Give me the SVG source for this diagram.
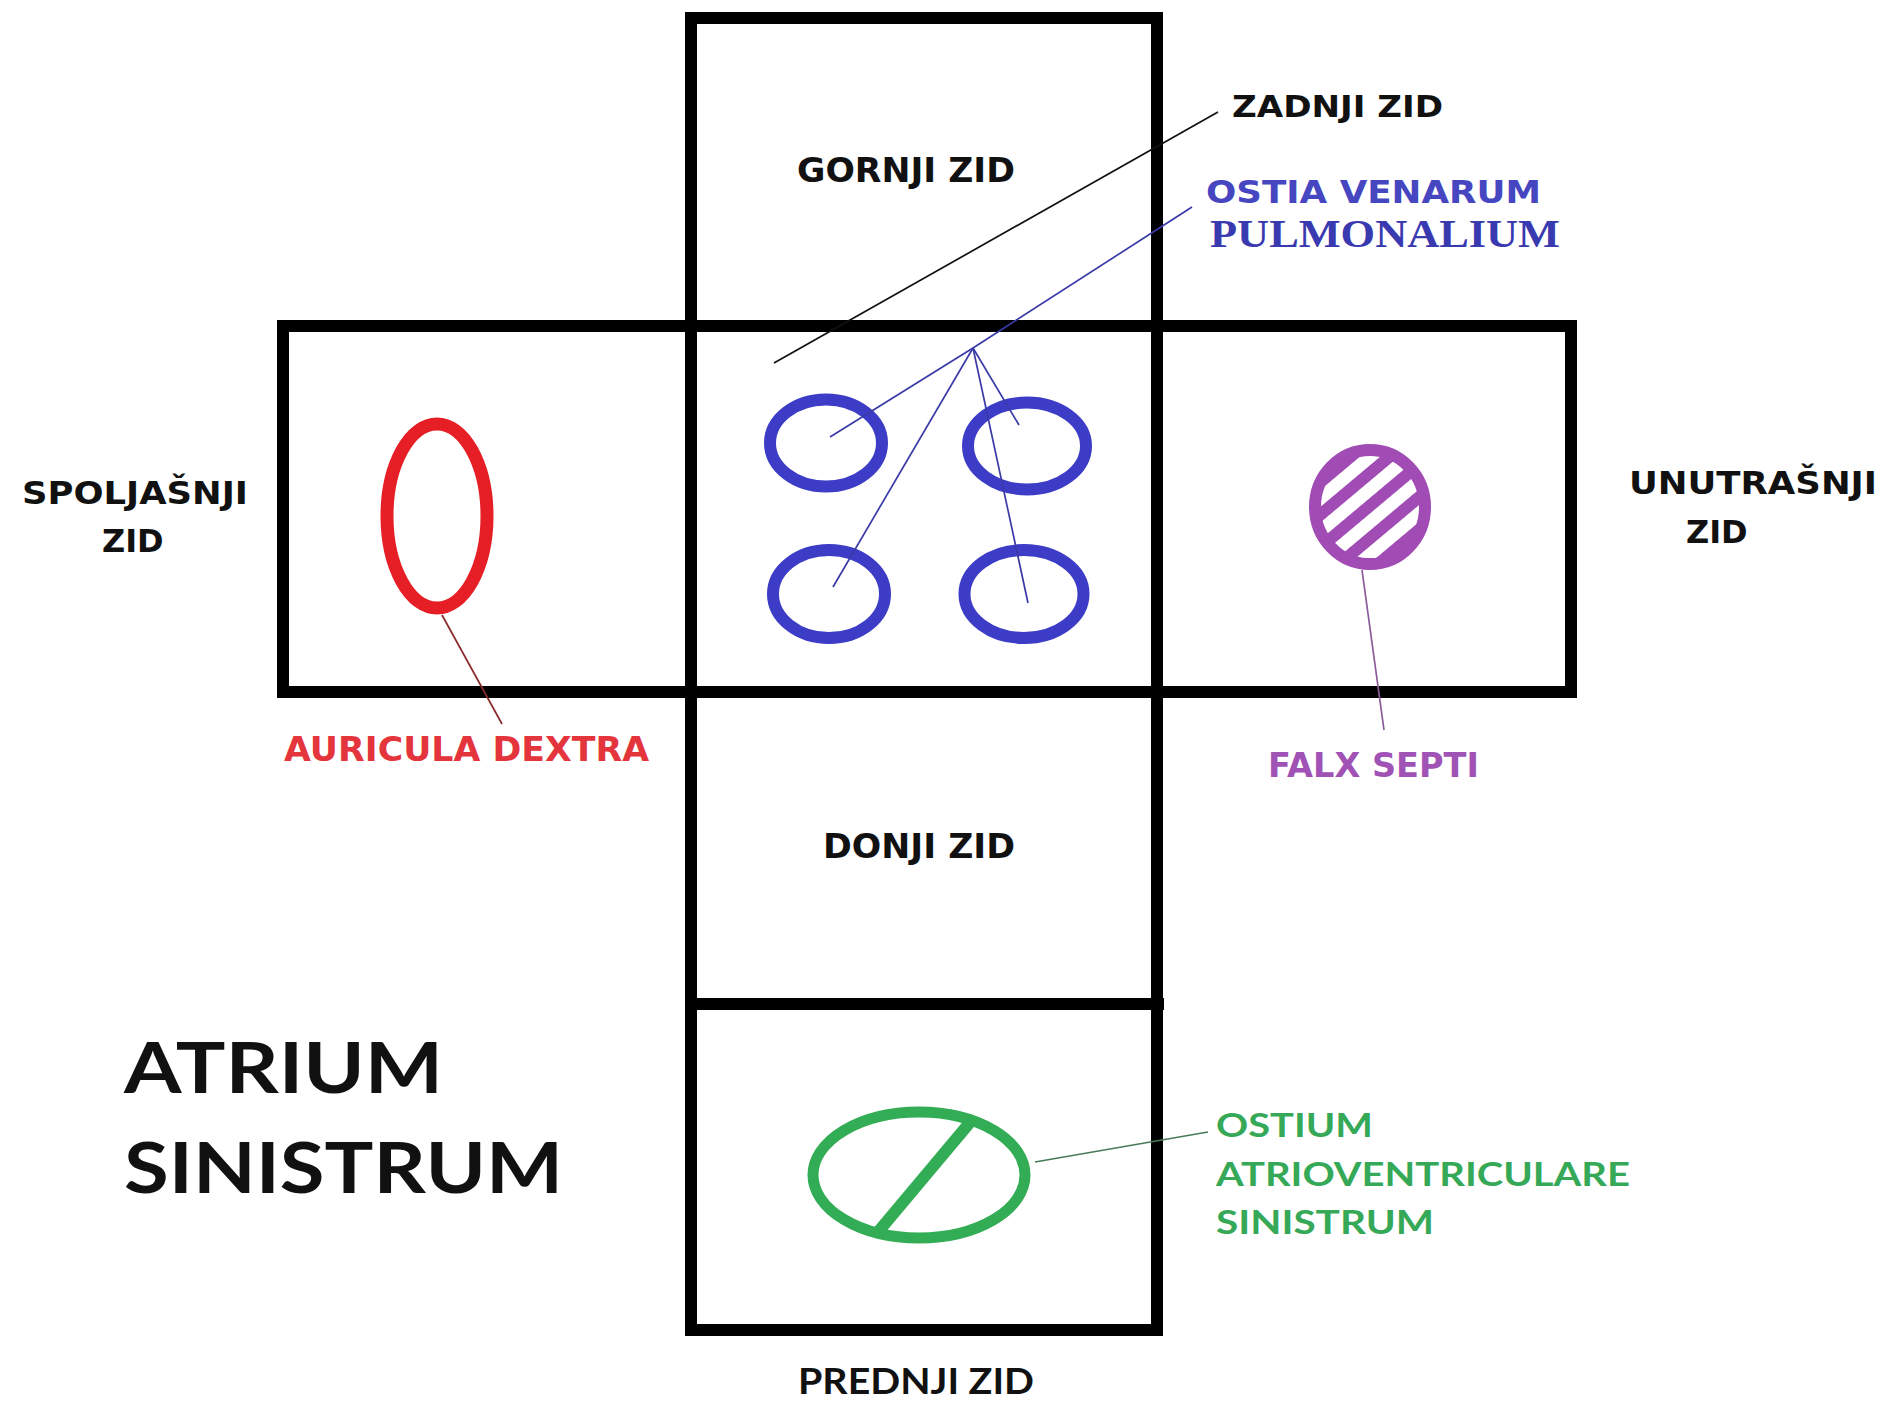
<svg xmlns="http://www.w3.org/2000/svg" width="1882" height="1404" viewBox="0 0 1882 1404">
<style>
.wall{fill:none;stroke:#000;stroke-width:12}
.t{font-family:"DejaVu Sans","Liberation Sans",sans-serif;font-weight:bold;fill:#111}
.c{font-family:Lato,"Open Sans","Liberation Sans",sans-serif;font-weight:bold}
.s{font-family:"Liberation Serif","DejaVu Serif",serif;font-weight:bold}
.blue{fill:none;stroke:#3c3cc6;stroke-width:12}
.lead{fill:none;stroke-width:1.7}
</style>
<defs>
<pattern id="hatch" patternUnits="userSpaceOnUse" width="25" height="25" patternTransform="rotate(-40 1370 507)">
<rect width="25" height="25" fill="#fff"/>
<rect y="0" width="25" height="12" fill="#a04cb4"/>
</pattern>
</defs>
<rect width="1882" height="1404" fill="#fff"/>

<g id="gornji-zid">
<rect class="wall" x="691" y="18" width="466" height="308"/>
<text class="t" x="797" y="182" font-size="33" textLength="218" lengthAdjust="spacingAndGlyphs">GORNJI ZID</text>
</g>
<g id="spoljasnji-zid">
<rect class="wall" x="283" y="326" width="408" height="366"/>
<text class="t" x="22" y="504" font-size="32" textLength="226" lengthAdjust="spacingAndGlyphs">SPOLJAŠNJI</text>
<text class="t" x="102" y="552" font-size="32">ZID</text>
</g>
<g id="zadnji-zid">
<rect class="wall" x="691" y="326" width="466" height="366"/>
<text class="t" x="1232" y="117" font-size="31" textLength="211" lengthAdjust="spacingAndGlyphs">ZADNJI ZID</text>
</g>
<g id="unutrasnji-zid">
<rect class="wall" x="1157" y="326" width="414" height="366"/>
<text class="t" x="1629" y="494" font-size="32" textLength="248" lengthAdjust="spacingAndGlyphs">UNUTRAŠNJI</text>
<text class="t" x="1686" y="543" font-size="32">ZID</text>
</g>
<g id="donji-zid">
<rect class="wall" x="691" y="692" width="466" height="312"/>
<line x1="1150" y1="1004" x2="1164" y2="1004" stroke="#000" stroke-width="12"/>
<text class="t" x="823" y="858" font-size="33" textLength="192" lengthAdjust="spacingAndGlyphs">DONJI ZID</text>
</g>
<g id="prednji-zid">
<rect class="wall" x="691" y="1004" width="466" height="326"/>
<text class="c" x="798" y="1394" font-size="37" fill="#111" textLength="236" lengthAdjust="spacingAndGlyphs">PREDNJI ZID</text>
</g>

<g id="ostia-venarum-pulmonalium">
<ellipse class="blue" cx="826" cy="443" rx="56" ry="43.5"/>
<ellipse class="blue" cx="1027" cy="446" rx="59" ry="43.5"/>
<ellipse class="blue" cx="829" cy="594" rx="56" ry="44"/>
<ellipse class="blue" cx="1024" cy="594" rx="59.5" ry="44"/>
<text class="t" x="1206" y="203" font-size="32" style="fill:#4646c0" textLength="335" lengthAdjust="spacingAndGlyphs">OSTIA VENARUM</text>
<text class="s" x="1210" y="247" font-size="40" fill="#3a3ab0" textLength="350" lengthAdjust="spacingAndGlyphs">PULMONALIUM</text>
</g>

<g id="auricula-dextra">
<ellipse cx="437" cy="516" rx="50" ry="92" fill="none" stroke="#e61e25" stroke-width="13"/>
<text class="t" x="284" y="761" font-size="33" style="fill:#e4343c" textLength="365" lengthAdjust="spacingAndGlyphs">AURICULA DEXTRA</text>
</g>

<g id="falx-septi">
<ellipse cx="1370" cy="507" rx="55" ry="57" fill="url(#hatch)" stroke="#a04cb4" stroke-width="12"/>
<text class="t" x="1268" y="777" font-size="33" style="fill:#a052b5" textLength="211" lengthAdjust="spacingAndGlyphs">FALX SEPTI</text>
</g>

<g id="ostium-atrioventriculare-sinistrum">
<ellipse cx="919" cy="1175" rx="106" ry="63" fill="none" stroke="#33ad55" stroke-width="11"/>
<line x1="972" y1="1120" x2="878" y2="1232" stroke="#33ad55" stroke-width="12"/>
<text class="c" x="1216" y="1137" font-size="33" fill="#35a957" textLength="157" lengthAdjust="spacingAndGlyphs">OSTIUM</text>
<text class="c" x="1216" y="1186" font-size="33" fill="#35a957" textLength="414" lengthAdjust="spacingAndGlyphs">ATRIOVENTRICULARE</text>
<text class="c" x="1216" y="1234" font-size="33" fill="#35a957" textLength="218" lengthAdjust="spacingAndGlyphs">SINISTRUM</text>
</g>

<g id="title">
<text class="c" x="124" y="1093" font-size="70" fill="#111" textLength="319" lengthAdjust="spacingAndGlyphs">ATRIUM</text>
<text class="c" x="124" y="1193" font-size="70" fill="#111" textLength="439" lengthAdjust="spacingAndGlyphs">SINISTRUM</text>
</g>

<g id="connectors">
<line class="lead" x1="774" y1="363" x2="1218" y2="112" stroke="#111" stroke-width="2"/>
<line class="lead" x1="1192" y1="207" x2="973" y2="348" stroke="#3a3aa8"/>
<line class="lead" x1="973" y1="348" x2="830" y2="437" stroke="#3a3aa8"/>
<line class="lead" x1="973" y1="348" x2="833" y2="587" stroke="#3a3aa8"/>
<line class="lead" x1="973" y1="348" x2="1019" y2="425" stroke="#3a3aa8"/>
<line class="lead" x1="973" y1="348" x2="1028" y2="603" stroke="#3a3aa8"/>
<line class="lead" x1="442" y1="615" x2="502" y2="724" stroke="#8a2a2a"/>
<line class="lead" x1="1362" y1="570" x2="1384" y2="730" stroke="#8a5a9a"/>
<line class="lead" x1="1035" y1="1162" x2="1208" y2="1132" stroke="#4a7a5a"/>
</g>
</svg>
